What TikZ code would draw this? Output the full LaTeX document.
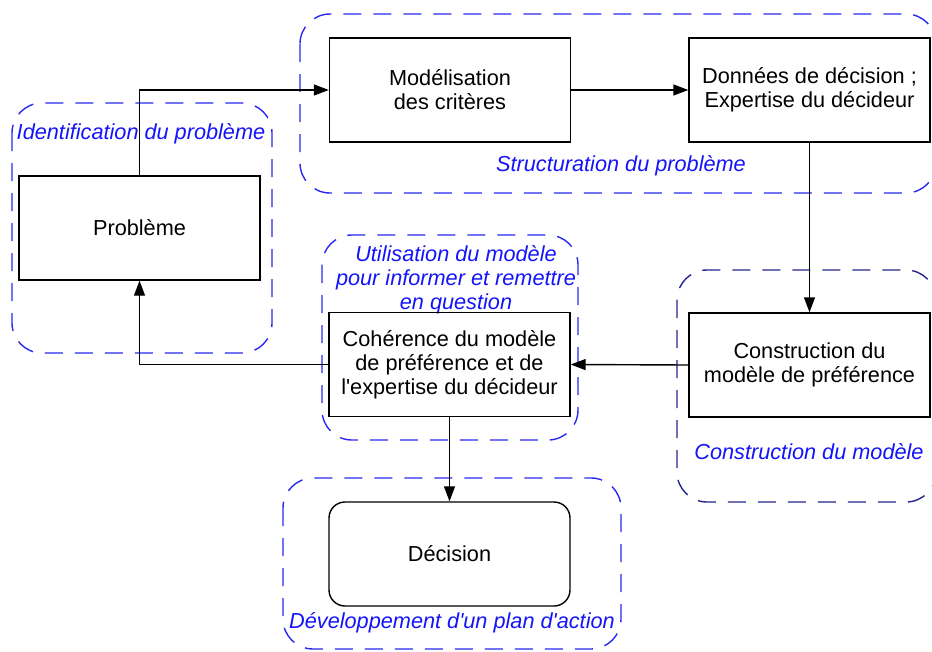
\documentclass[tikz,border=0pt]{standalone}
\usepackage{fontspec}
\setmainfont{Liberation Sans}
\usetikzlibrary{arrows.meta}
\definecolor{grpblue}{RGB}{40,40,240}
\definecolor{grpnavy}{RGB}{35,35,140}
\definecolor{lblblue}{RGB}{20,20,250}
\begin{document}
\begin{tikzpicture}[x=1pt,y=-1pt,
  box/.style={draw=black,line width=1.4pt,minimum width=241pt,minimum height=104pt,align=center,inner sep=0pt,font=\fontsize{21.7}{24}\selectfont},
  rbox/.style={box,rounded corners=16pt},
  grp/.style={draw=grpblue,line width=1.4pt,dash pattern=on 18pt off 12pt,rounded corners=30pt},
  lbl/.style={text=lblblue,align=center,inner sep=0pt,font=\fontsize{21.7}{24}\selectfont\itshape},
  arr/.style={line width=1.4pt,-{Triangle[length=15pt,width=11pt]}},
  ln/.style={line width=1.4pt}]
\useasboundingbox (0,0) rectangle (932,651);
\clip (0,0) rectangle (932,651);
% groups
\draw[grp] (12,103) rectangle (272,353);
\draw[grp] (300,14) rectangle (936,193);
\draw[grp] (322,235) rectangle (578,440);
\draw[grp,draw=grpnavy] (677,270) rectangle (936,502);
\draw[grp] (283,478) rectangle (621,649);
% group labels
\node[lbl] (l1) at (141,134) {Identification du problème};
\node[lbl] (l2) at (621,166) {Structuration du problème};
\node[lbl] (l3) at (456,280) {Utilisation du modèle\\pour informer et remettre\\en question};
\node[lbl] (l4) at (809,452) {Construction du modèle};
\node[lbl] (l5) at (452,623) {Développement d\textquotesingle un plan d\textquotesingle action};
% boxes
\node[box] (pb) at (139.5,228) {Problème};
\node[box] (mod) at (450,90) {Modélisation\\des critères};
\node[box] (don) at (809.5,90) {Données de décision ;\\Expertise du décideur};
\node[box] (con) at (809.5,365) {Construction du\\modèle de préférence};
\node[box] (coh) at (449.5,364.5) {Cohérence du modèle\\de préférence et de\\l\textquotesingle expertise du décideur};
\node[rbox] (dec) at (449.5,554) {Décision};
% connectors
\draw[arr] (pb.north) |- (mod.west);
\draw[arr] (mod.east) -- (don.west);
\draw[arr] (don.south) -- (con.north);
\draw[arr] (con.west) -- (coh.east);
\draw[arr] (coh.west) -| (pb.south);
\draw[arr] (coh.south) -- (dec.north);
\end{tikzpicture}
\end{document}
